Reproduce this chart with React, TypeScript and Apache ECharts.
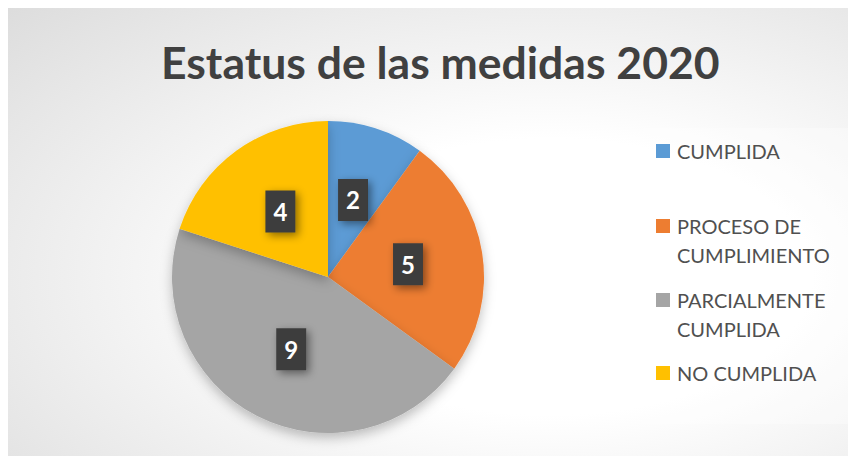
import React, { useEffect, useRef } from "react";
import * as echarts from "echarts";

const TITLE = "Estatus de las medidas 2020";
const categories = ["CUMPLIDA", "PROCESO DE CUMPLIMIENTO", "PARCIALMENTE CUMPLIDA", "NO CUMPLIDA"];
const legendLabels = ["CUMPLIDA", "PROCESO DE\nCUMPLIMIENTO", "PARCIALMENTE\nCUMPLIDA", "NO CUMPLIDA"];
const values = [2, 5, 9, 4];
const colors = ["#5B9BD5", "#ED7D31", "#A5A5A5", "#FFC000"];

export default function App() {
  const ref = useRef<HTMLDivElement>(null);
  useEffect(() => {
    if (!ref.current) return;
    const chart = echarts.init(ref.current, undefined, { renderer: "svg" });
    const lineH = 29;
    const iconCenters = [143, 218, 292, 365];
    // square placed at top of a taller icon box so it lines up with the first text line
    const topSquare = "path://M0,0.5L14,0.5L14,14.5L0,14.5Z M0,0L0,0Z M0,44L0,44Z";
    const legends = categories.map((name, i) => {
      const lines = legendLabels[i].split("\n").length;
      const multi = lines > 1;
      return {
        orient: "vertical",
        left: 648,
        top: multi ? iconCenters[i] - 7.5 - 7 : iconCenters[i] - lineH / 2,
        padding: 0,
        itemWidth: 14,
        itemHeight: multi ? 44 : 14,
        icon: multi ? topSquare : "rect",
        data: [name],
        formatter: () => legendLabels[i],
        textStyle: {
          fontFamily: "Lato",
          fontSize: 20,
          color: "#505050",
          lineHeight: lineH,
          padding: [0, 0, 0, 2],
        },
      };
    });
    chart.setOption({
      animation: false,
      backgroundColor: new echarts.graphic.RadialGradient(0.64, 0.6, 1.4, [
        { offset: 0, color: "#ffffff" },
        { offset: 0.22, color: "#ffffff" },
        { offset: 1, color: "#bdbdbd" },
      ]),
      color: colors,
      title: {
        text: TITLE,
        left: 153,
        top: 31,
        padding: 0,
        textStyle: { fontFamily: "Lato", fontWeight: "bold", fontSize: 44.5, color: "#404040" },
      },
      graphic: [
        {
          type: "rect",
          shape: { x: 636, y: 120, width: 208, height: 296 },
          style: { fill: "rgba(255,255,255,0.3)" },
          silent: true,
        },
      ],
      legend: legends,
      series: [
        {
          type: "pie",
          center: [320, 269],
          radius: 156,
          startAngle: 90,
          clockwise: true,
          data: categories.map((name, i) => ({ name, value: values[i] })),
          itemStyle: {
            shadowBlur: 12,
            shadowOffsetY: 5,
            shadowColor: "rgba(0,0,0,0.25)",
          },
          label: {
            show: true,
            position: "inside",
            formatter: "{c}",
            fontFamily: "Lato",
            fontWeight: "bold",
            fontSize: 24,
            color: "#ffffff",
            lineHeight: 28,
            backgroundColor: "#3c3c3c",
            padding: [7, 8],
            shadowBlur: 8,
            shadowOffsetX: 3,
            shadowOffsetY: 3,
            shadowColor: "rgba(0,0,0,0.45)",
          },
          labelLine: { show: false },
          emphasis: { disabled: true },
        },
      ],
    });
    return () => chart.dispose();
  }, []);
  return <div ref={ref} style={{ width: 848, height: 448 }} />;
}
